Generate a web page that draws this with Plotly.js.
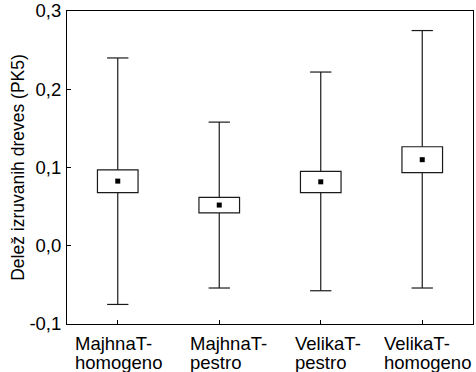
<!DOCTYPE html>
<html>
<head>
<meta charset="utf-8">
<script src="https://cdn.plot.ly/plotly-3.0.1.min.js"></script>
<style>
  html, body { margin: 0; padding: 0; background: #fff; }
  #chart { width: 476px; height: 372px; }
</style>
</head>
<body>
<div id="chart"></div>
<script>
// Groups and their summary statistics (mean, mean ± SE box, whisker range)
const categoryTop    = ['MajhnaT-', 'MajhnaT-', 'VelikaT-', 'VelikaT-'];
const categoryBottom = ['homogeno', 'pestro', 'pestro', 'homogeno'];
const meanVals    = [0.0826, 0.052, 0.0817, 0.110];
const boxLow      = [0.068, 0.042, 0.068, 0.0935];
const boxHigh     = [0.097, 0.0617, 0.095, 0.1265];
const whiskerLow  = [-0.075, -0.054, -0.0575, -0.054];
const whiskerHigh = [0.240, 0.158, 0.222, 0.275];

const yTickVals   = [-0.1, 0.0, 0.1, 0.2, 0.3];
const yTickLabels = ['-0,1', '0,0', '0,1', '0,2', '0,3'];
const yTitle = 'Delež izruvanih dreves (PK5)';

const FONT = '"Liberation Sans", Arial, sans-serif';
const INK = '#1a1a1a';
const BOX_W = 0.40;     // box width in category units
const CAP_HALF = 0.105; // half-width of the whisker caps

const xIdx = categoryTop.map((_, i) => i);

// Boxes: white bars spanning boxLow..boxHigh
const boxes = {
  type: 'bar',
  x: xIdx,
  base: boxLow,
  y: boxHigh.map((h, i) => h - boxLow[i]),
  width: BOX_W,
  marker: { color: '#ffffff', line: { color: INK, width: 1.2 } },
  hoverinfo: 'skip',
  showlegend: false
};

// Whisker stems and caps as line segments separated by gaps
const wx = [], wy = [];
xIdx.forEach(i => {
  wx.push(i, i, null); wy.push(boxHigh[i], whiskerHigh[i], null);
  wx.push(i, i, null); wy.push(boxLow[i], whiskerLow[i], null);
  wx.push(i - CAP_HALF, i + CAP_HALF, null); wy.push(whiskerHigh[i], whiskerHigh[i], null);
  wx.push(i - CAP_HALF, i + CAP_HALF, null); wy.push(whiskerLow[i], whiskerLow[i], null);
});
const whiskers = {
  type: 'scatter',
  mode: 'lines',
  x: wx,
  y: wy,
  line: { color: INK, width: 1.2 },
  connectgaps: false,
  hoverinfo: 'skip',
  showlegend: false
};

const means = {
  type: 'scatter',
  mode: 'markers',
  x: xIdx,
  y: meanVals,
  marker: { symbol: 'square', size: 5, color: '#000000' },
  hoverinfo: 'skip',
  showlegend: false
};

// Category labels: two left-aligned lines under each group
const labelLeft = [-45, -31, -28, -40];  // pixel offset of the label's left edge from the tick
const labelFont = { family: FONT, size: 18.5, color: '#000' };
const labelAnnotations = [];
xIdx.forEach(i => {
  labelAnnotations.push({
    x: i, xref: 'x', y: 0, yref: 'paper',
    xanchor: 'left', yanchor: 'top',
    xshift: labelLeft[i], yshift: -6.5,
    text: categoryTop[i], showarrow: false, font: labelFont
  });
  labelAnnotations.push({
    x: i, xref: 'x', y: 0, yref: 'paper',
    xanchor: 'left', yanchor: 'top',
    xshift: labelLeft[i], yshift: -25.5,
    text: categoryBottom[i], showarrow: false, font: labelFont
  });
});

const layout = {
  width: 476,
  height: 372,
  margin: { l: 67, r: 3, t: 11, b: 48, pad: 0 },
  paper_bgcolor: '#ffffff',
  plot_bgcolor: '#ffffff',
  font: { family: FONT, size: 18.5, color: '#000' },
  bargap: 0,
  xaxis: {
    type: 'linear',
    range: [-0.5, 3.5],
    tickvals: xIdx,
    showticklabels: false,
    ticks: 'inside',
    ticklen: 4,
    tickcolor: '#000',
    showline: true,
    mirror: true,
    linecolor: '#000',
    linewidth: 1,
    showgrid: false,
    zeroline: false,
    fixedrange: true
  },
  yaxis: {
    range: [-0.1, 0.3],
    tickvals: yTickVals,
    ticktext: yTickLabels,
    ticks: 'inside',
    ticklen: 4,
    tickcolor: '#000',
    ticklabelstandoff: 1,
    tickfont: { family: FONT, size: 18.5, color: '#000' },
    showline: true,
    mirror: true,
    linecolor: '#000',
    linewidth: 1,
    showgrid: false,
    zeroline: false,
    fixedrange: true,
    title: { text: yTitle, font: { family: FONT, size: 17.5, color: '#000' }, standoff: 0 }
  },
  annotations: labelAnnotations
};

Plotly.newPlot('chart', [boxes, whiskers, means], layout, { displayModeBar: false, staticPlot: true });
</script>
</body>
</html>
